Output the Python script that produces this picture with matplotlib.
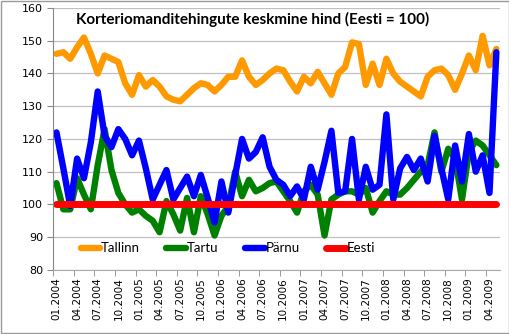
import numpy as np
import matplotlib
matplotlib.use("Agg")
import matplotlib.pyplot as plt
from matplotlib.patches import Rectangle

# monthly index values, 01.2004 .. 05.2009 (Eesti = 100)
months = [f"{m:02d}.{y}" for y in range(2004, 2010) for m in range(1, 13)][:65]

tallinn = [146, 146.5, 144.5, 148, 151, 146, 140, 145.5, 144.5, 143.5,
           137, 133.5, 139.5, 136, 138, 136, 133, 132, 131.5, 133.5,
           135.5, 137, 136.5, 134.5, 136.5, 139, 139, 144, 139, 136.5,
           138, 140, 141.5, 141, 137.5, 134.5, 139, 137, 140.5, 137,
           133.5, 140, 142, 149.5, 149, 136.5, 143, 136.5, 144.5, 140,
           137.5, 136, 134.5, 133, 139, 141, 141.5, 139.5, 135, 140,
           145.5, 141, 151.5, 142.5, 147.5]

tartu = [106.5, 98.5, 98.5, 108, 103, 98.5, 112, 123, 110.5, 103.5,
         100, 97.5, 98.5, 96.5, 95, 91.5, 101, 97, 92, 102,
         91.5, 102.5, 97, 90.5, 96.5, 99.5, 110, 102.5, 107.5, 104,
         105, 106.5, 107, 104, 101, 97.5, 104, 106, 103, 90.5,
         101.5, 103, 104, 104, 103, 105, 97.5, 101, 104, 103,
         103, 105, 107.5, 110, 112, 122, 110, 117, 114, 101.5,
         116, 119.5, 118, 115, 112]

parnu = [122, 111, 99.5, 114, 108, 119, 134.5, 121, 117.5, 123,
         120, 115, 119.5, 111, 101.5, 106, 110.5, 101.5, 105, 108.5,
         102.5, 109, 102, 94.5, 107, 97.5, 109, 120, 114, 116,
         120.5, 111.5, 107.5, 106, 102.5, 105.5, 101.5, 111.5, 104.5, 113,
         122.5, 103.5, 104, 120, 101.5, 111.5, 104.5, 106, 127.5, 101.5,
         111, 114.5, 110.5, 114, 107, 121, 111, 101.5, 118, 107,
         121.5, 110, 115, 103.5, 146.5]

eesti = [100] * 65

x = np.arange(len(months))

fig = plt.figure(figsize=(5.1, 3.34), dpi=100)
ax = fig.add_axes([0.104, 0.192, 0.876, 0.784])

ax.grid(axis="y", color="#c0c0c0", linewidth=0.9)
ax.set_axisbelow(True)

ax.plot(x, tallinn, color="#ff9900", lw=4.6, solid_capstyle="round", solid_joinstyle="round", label="Tallinn")
ax.plot(x, tartu, color="#008000", lw=4.6, solid_capstyle="round", solid_joinstyle="round", label="Tartu")
ax.plot(x, parnu, color="#0000ff", lw=4.6, solid_capstyle="round", solid_joinstyle="round", label="Pärnu")
ax.plot(x, eesti, color="#ff0000", lw=5, solid_capstyle="round", label="Eesti")

ax.set_xlim(-0.5, len(months) - 0.5)
ax.set_ylim(80, 160)
ax.set_yticks(range(80, 161, 10))
ax.tick_params(axis="y", labelsize=8, colors="#888888", labelcolor="black", length=4, pad=3)

# labels every 3 months, tick marks between categories
ax.set_xticks(x[::3])
ax.set_xticklabels(months[::3], rotation=90, fontsize=7.5)
ax.set_xticks(np.arange(-0.5, len(months), 3), minor=True)
ax.tick_params(axis="x", which="major", length=0, pad=5)
ax.tick_params(axis="x", which="minor", length=4, color="#888888")

for s in ["top", "right"]:
    ax.spines[s].set_visible(False)
ax.spines["left"].set_color("#888888")
ax.spines["bottom"].set_color("#aaaaaa")
ax.spines["bottom"].set_linestyle((0, (1, 1)))

ax.text(0.052, 0.985, "Korteriomanditehingute keskmine hind (Eesti = 100)",
        transform=ax.transAxes, fontsize=11, fontweight="bold", family="Lato",
        va="top", ha="left")

ax.legend(loc="lower left", bbox_to_anchor=(0.05, 0.04), ncol=4, frameon=False,
          prop={"family": "Lato", "size": 9.5}, handlelength=1.5, handletextpad=0.05,
          columnspacing=2.0, borderaxespad=0)

fig.patches.append(Rectangle((0.001, 0.002), 0.997, 0.995, transform=fig.transFigure,
                             fill=False, edgecolor="#999999", linewidth=1))

fig.savefig("out.png", dpi=100)
